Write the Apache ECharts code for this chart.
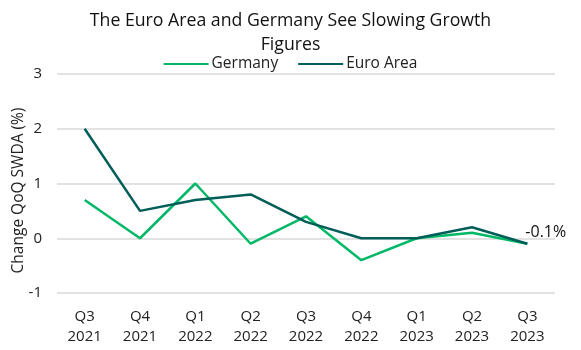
<!DOCTYPE html>
<html>
<head>
<meta charset="utf-8">
<script src="https://cdn.jsdelivr.net/npm/echarts@6/dist/echarts.min.js"></script>
<style>
html, body { margin: 0; padding: 0; background: #fff; }
#chart { width: 581px; height: 350px; }
</style>
</head>
<body>
<div id="chart"></div>
<script>
var categories = ['Q3\n2021', 'Q4\n2021', 'Q1\n2022', 'Q2\n2022', 'Q3\n2022', 'Q4\n2022', 'Q1\n2023', 'Q2\n2023', 'Q3\n2023'];
var germany = [0.7, 0.0, 1.0, -0.1, 0.4, -0.4, 0.0, 0.1, -0.1];
var euroArea = [2.0, 0.5, 0.7, 0.8, 0.3, 0.0, 0.0, 0.2, -0.1];

var font = '"Open Sans", "Noto Sans", sans-serif';
var myChart = echarts.init(document.getElementById('chart'));

var option = {
    backgroundColor: '#fff',
    textStyle: { fontFamily: font },
    title: {
        text: 'The Euro Area and Germany See Slowing Growth\nFigures',
        left: 'center',
        top: 4,
        textStyle: { fontFamily: font, fontSize: 17.7, fontWeight: 'normal', color: '#111', lineHeight: 24 }
    },
    legend: {
        top: 51,
        left: 'center',
        itemWidth: 45,
        itemHeight: 2,
        itemGap: 20,
        icon: 'rect',
        textStyle: { fontFamily: font, fontSize: 15.5, color: '#222', padding: [0, 0, 0, -2] },
        data: ['Germany', 'Euro Area']
    },
    grid: { left: 57, right: 26, top: 74, bottom: 57, outerBoundsMode: 'none' },
    xAxis: {
        type: 'category',
        data: categories,
        boundaryGap: true,
        axisLine: { show: false },
        axisTick: { show: false },
        axisLabel: { fontFamily: font, fontSize: 15, color: '#222', lineHeight: 20, margin: 14 }
    },
    yAxis: {
        type: 'value',
        min: -1,
        max: 3,
        interval: 1,
        name: 'Change QoQ SWDA (%)',
        nameLocation: 'middle',
        nameGap: 30,
        nameMoveOverlap: false,
        nameTextStyle: { fontFamily: font, fontSize: 15.5, color: '#222', padding: [0, 14, 0, 0] },
        axisLabel: { fontFamily: font, fontSize: 15, color: '#222', margin: 15 },
        splitLine: { lineStyle: { color: '#d9d9d9', width: 1.5 } }
    },
    series: [
        {
            name: 'Germany',
            type: 'line',
            data: germany,
            symbol: 'none',
            color: '#00b866',
            lineStyle: { width: 2.5, color: '#00b866' }
        },
        {
            name: 'Euro Area',
            type: 'line',
            data: euroArea,
            symbol: 'none',
            color: '#005e58',
            lineStyle: { width: 2.5, color: '#005e58' },
            endLabel: {
                show: true,
                formatter: function (p) { return p.value.toFixed(1) + '%'; },
                fontFamily: font,
                fontSize: 16,
                color: '#111',
                distance: 0,
                offset: [-2, -11]
            }
        }
    ]
};

myChart.setOption(option);
window.addEventListener('resize', function () {
    myChart.resize();
});
</script>
</body>
</html>
